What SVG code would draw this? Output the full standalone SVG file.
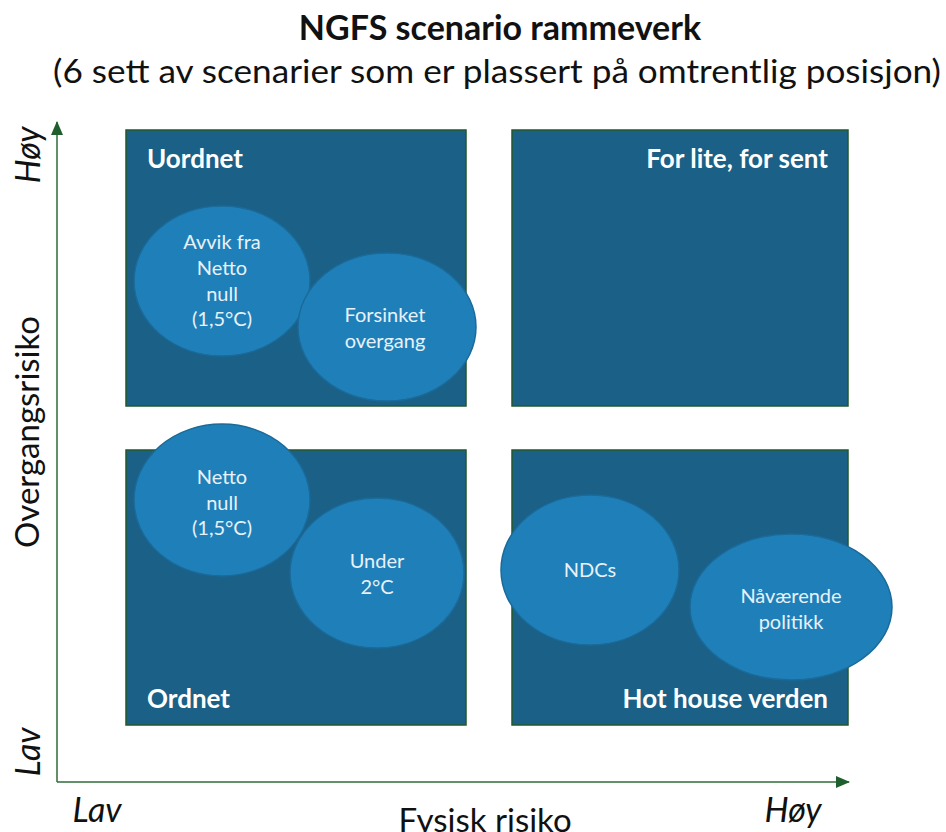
<svg xmlns="http://www.w3.org/2000/svg" width="946" height="832" viewBox="0 0 946 832">
<defs>
<marker id="ah" viewBox="0 0 14 12" refX="13" refY="6" markerWidth="14" markerHeight="12" markerUnits="userSpaceOnUse" orient="auto">
<path d="M0,0 L14,6 L0,12 z" fill="#1f5f2e"/>
</marker>
<style>
.box{fill:#1a6087;stroke:#23582d;stroke-width:1.5}
.ell{fill:#1f80b9;stroke:#1a6a9a;stroke-width:1.5}
.lbl{font-family:Lato,"Liberation Sans",sans-serif;font-weight:bold;font-size:26px;fill:#ffffff}
.et{font-family:Lato,"Liberation Sans",sans-serif;font-size:20px;fill:#e8f1f8;text-anchor:middle}
.ax{font-family:Lato,"Liberation Sans",sans-serif;font-size:33px;fill:#111}
.it{font-family:Lato,"Liberation Sans",sans-serif;font-style:italic;font-size:34px;fill:#111}
</style>
</defs>
<rect width="946" height="832" fill="#ffffff"/>
<text x="500" y="40" text-anchor="middle" style="font-family:Lato,'Liberation Sans',sans-serif;font-weight:bold;font-size:34px;fill:#111">NGFS scenario rammeverk</text>
<text x="497" y="83" text-anchor="middle" style="font-family:Lato,'Liberation Sans',sans-serif;font-size:32px;fill:#111" textLength="888" lengthAdjust="spacingAndGlyphs">(6 sett av scenarier som er plassert på omtrentlig posisjon)</text>
<g id="q-uordnet">
<rect class="box" x="126" y="130" width="340" height="276"/>
<text class="lbl" x="147" y="168">Uordnet</text>
</g>
<g id="q-forlite">
<rect class="box" x="512" y="130" width="336" height="276"/>
<text class="lbl" x="828" y="168" text-anchor="end">For lite, for sent</text>
</g>
<g id="q-ordnet">
<rect class="box" x="126" y="450" width="340" height="275"/>
<text class="lbl" x="147" y="708">Ordnet</text>
</g>
<g id="q-hothouse">
<rect class="box" x="512" y="450" width="336" height="275"/>
<text class="lbl" x="828" y="708" text-anchor="end">Hot house verden</text>
</g>
<g id="s-avvik">
<ellipse class="ell" cx="222" cy="281" rx="88" ry="75"/>
<text class="et" x="222" y="249">Avvik fra</text>
<text class="et" x="222" y="275">Netto</text>
<text class="et" x="222" y="301">null</text>
<text class="et" x="222" y="326">(1,5°C)</text>
</g>
<g id="s-forsinket">
<ellipse class="ell" cx="387" cy="327" rx="89" ry="74"/>
<text class="et" x="385" y="322">Forsinket</text>
<text class="et" x="385" y="348">overgang</text>
</g>
<g id="s-netto">
<ellipse class="ell" cx="222" cy="500" rx="88" ry="76"/>
<text class="et" x="222" y="484">Netto</text>
<text class="et" x="222" y="510">null</text>
<text class="et" x="222" y="535">(1,5°C)</text>
</g>
<g id="s-under">
<ellipse class="ell" cx="377" cy="573" rx="87" ry="75"/>
<text class="et" x="377" y="568">Under</text>
<text class="et" x="377" y="594">2°C</text>
</g>
<g id="s-ndcs">
<ellipse class="ell" cx="590" cy="570" rx="89" ry="75"/>
<text class="et" x="590" y="577">NDCs</text>
</g>
<g id="s-naavaerende">
<ellipse class="ell" cx="791" cy="607" rx="101" ry="73"/>
<text class="et" x="791" y="603">Nåværende</text>
<text class="et" x="791" y="629">politikk</text>
</g>
<g id="axes" fill="none" stroke="#2e6b3a" stroke-width="1.5">
<line x1="57" y1="782" x2="57" y2="122" marker-end="url(#ah)"/>
<line x1="57" y1="782" x2="849" y2="782" marker-end="url(#ah)"/>
</g>
<text class="it" transform="translate(40,155) rotate(-90)" text-anchor="middle">Høy</text>
<text class="ax" transform="translate(39,432) rotate(-90)" text-anchor="middle">Overgangsrisiko</text>
<text class="it" transform="translate(40,752) rotate(-90)" text-anchor="middle">Lav</text>
<text class="it" x="97" y="822" text-anchor="middle">Lav</text>
<text class="ax" x="485" y="832" text-anchor="middle">Fysisk risiko</text>
<text class="it" x="793" y="822" text-anchor="middle">Høy</text>
</svg>
